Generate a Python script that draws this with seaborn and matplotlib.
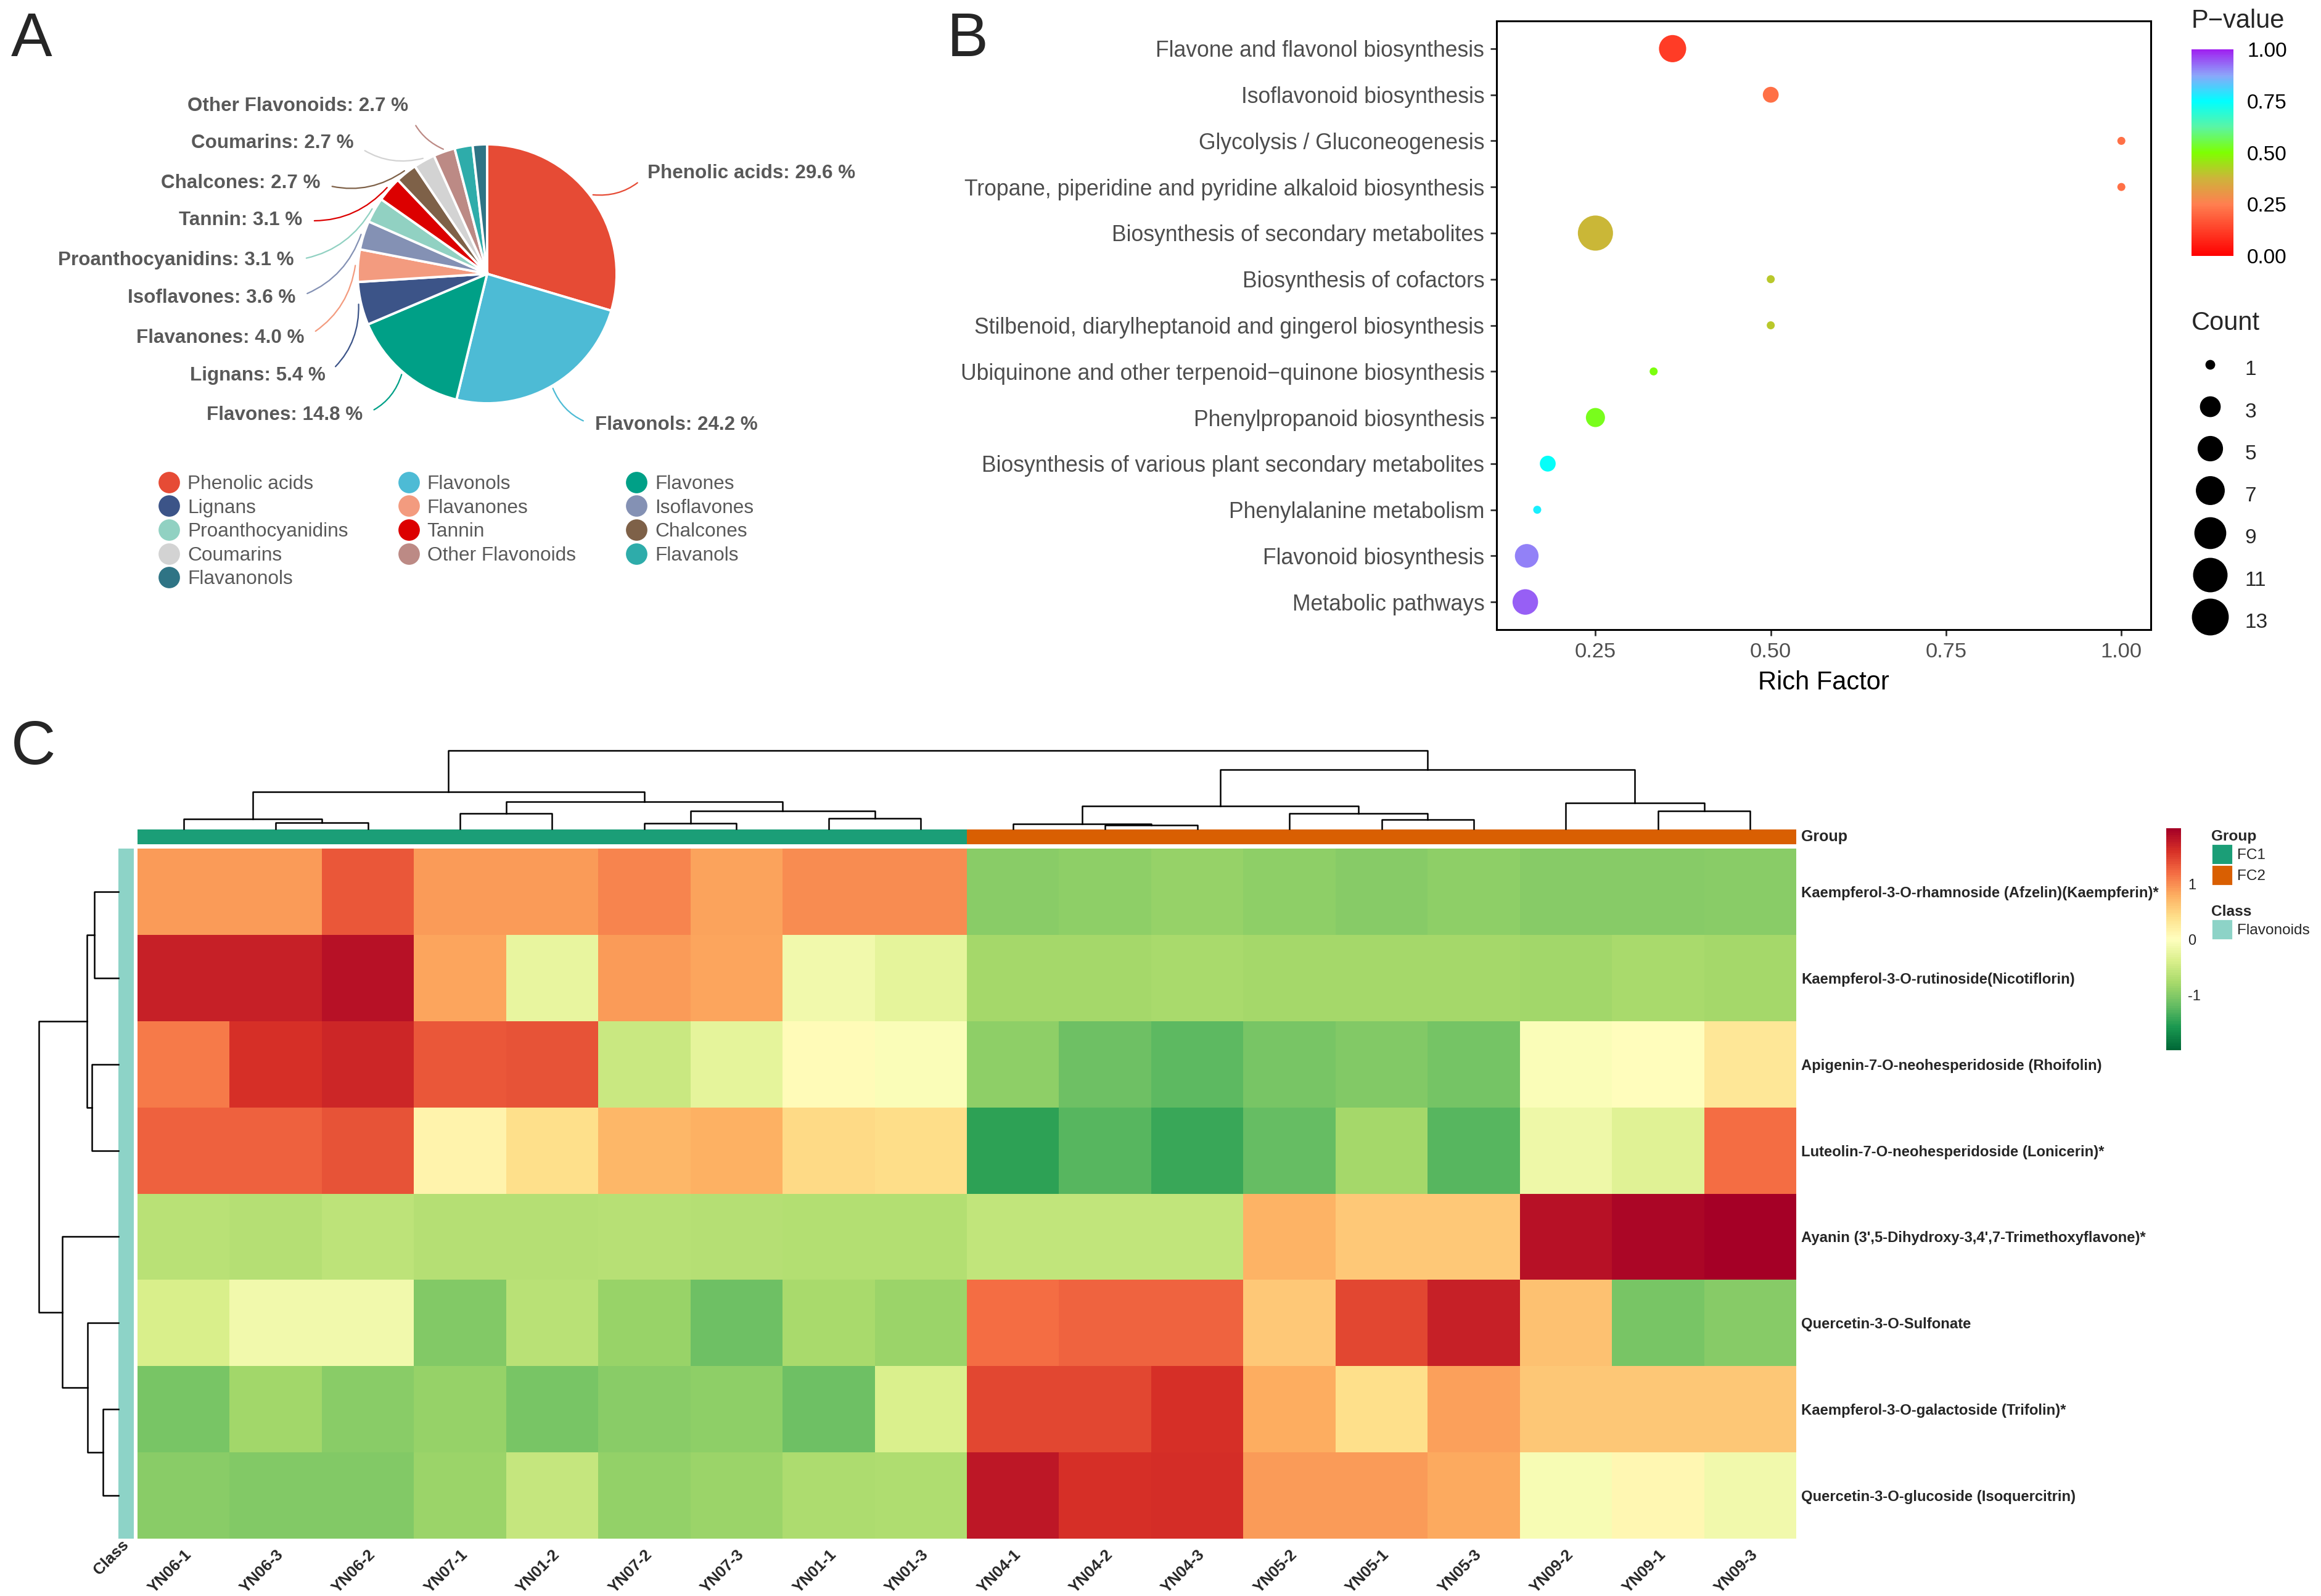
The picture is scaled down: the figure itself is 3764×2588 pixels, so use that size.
import numpy as np
import pandas as pd
import matplotlib
matplotlib.use("Agg")
import matplotlib.pyplot as plt
import seaborn as sns
from matplotlib.colors import LinearSegmentedColormap, ListedColormap, Normalize
from matplotlib.cm import ScalarMappable
from matplotlib.lines import Line2D
from matplotlib.patches import Patch

# ---------------- panel A : class composition ----------------
pie_classes = ["Phenolic acids", "Flavonols", "Flavones", "Lignans", "Flavanones",
               "Isoflavones", "Proanthocyanidins", "Tannin", "Chalcones", "Coumarins",
               "Other Flavonoids", "Flavanols", "Flavanonols"]
pie_counts = [66, 54, 33, 12, 9, 8, 7, 7, 6, 6, 6, 5, 4]
pie_colors = ["#E64B35", "#4DBBD5", "#00A087", "#3C5488", "#F39B7F", "#8491B4",
              "#91D1C2", "#DC0000", "#7E6148", "#D3D3D3", "#BC8A85", "#2EACAA", "#2F7485"]

# ---------------- panel B : KEGG enrichment ----------------
pathways = ["Flavone and flavonol biosynthesis", "Isoflavonoid biosynthesis",
            "Glycolysis / Gluconeogenesis",
            "Tropane, piperidine and pyridine alkaloid biosynthesis",
            "Biosynthesis of secondary metabolites", "Biosynthesis of cofactors",
            "Stilbenoid, diarylheptanoid and gingerol biosynthesis",
            "Ubiquinone and other terpenoid\u2212quinone biosynthesis",
            "Phenylpropanoid biosynthesis",
            "Biosynthesis of various plant secondary metabolites",
            "Phenylalanine metabolism", "Flavonoid biosynthesis", "Metabolic pathways"]
rich_factor = [0.36, 0.50, 1.00, 1.00, 0.25, 0.50, 0.50, 0.333, 0.25, 0.182, 0.167, 0.152, 0.15]
hit_count = [7, 2, 1, 1, 13, 1, 1, 1, 3, 2, 1, 5, 6]
p_value = [0.12, 0.22, 0.22, 0.22, 0.38, 0.41, 0.41, 0.51, 0.52, 0.74, 0.77, 0.91, 0.94]
count_breaks = [1, 3, 5, 7, 9, 11, 13]

# ---------------- panel C : heatmap ----------------
compounds = ["Kaempferol-3-O-rhamnoside (Afzelin)(Kaempferin)*",
             "Kaempferol-3-O-rutinoside(Nicotiflorin)",
             "Apigenin-7-O-neohesperidoside (Rhoifolin)",
             "Luteolin-7-O-neohesperidoside (Lonicerin)*",
             "Ayanin (3',5-Dihydroxy-3,4',7-Trimethoxyflavone)*",
             "Quercetin-3-O-Sulfonate",
             "Kaempferol-3-O-galactoside (Trifolin)*",
             "Quercetin-3-O-glucoside (Isoquercitrin)"]
samples = ["YN06-1", "YN06-3", "YN06-2", "YN07-1", "YN01-2", "YN07-2", "YN07-3", "YN01-1", "YN01-3",
           "YN04-1", "YN04-2", "YN04-3", "YN05-2", "YN05-1", "YN05-3", "YN09-2", "YN09-1", "YN09-3"]
sample_group = ["FC1"] * 9 + ["FC2"] * 9
z_afzelin = [0.92, 0.92, 1.33, 0.92, 0.92, 1.05, 0.87, 1.0, 1.0,
             -0.97, -0.95, -0.9, -0.95, -1.0, -0.95, -1.0, -1.0, -0.97]
z_nicotiflorin = [1.72, 1.72, 1.85, 0.85, -0.25, 0.92, 0.85, -0.15, -0.28,
                  -0.8, -0.8, -0.78, -0.8, -0.8, -0.8, -0.82, -0.78, -0.8]
z_rhoifolin = [1.12, 1.6, 1.68, 1.33, 1.36, -0.52, -0.28, 0.05, -0.05,
               -0.95, -1.15, -1.25, -1.08, -1.02, -1.1, -0.06, 0.02, 0.3]
z_lonicerin = [1.27, 1.27, 1.36, 0.15, 0.4, 0.72, 0.78, 0.45, 0.42,
               -1.5, -1.28, -1.43, -1.2, -0.8, -1.28, -0.18, -0.32, 1.2]
z_ayanin = [-0.65, -0.68, -0.62, -0.68, -0.68, -0.66, -0.68, -0.7, -0.7,
            -0.58, -0.58, -0.58, 0.75, 0.58, 0.58, 1.85, 1.95, 2.0]
z_sulfonate = [-0.4, -0.15, -0.15, -1.02, -0.65, -0.88, -1.15, -0.78, -0.87,
               1.2, 1.25, 1.25, 0.58, 1.45, 1.72, 0.65, -1.08, -1.0]
z_trifolin = [-1.08, -0.82, -0.97, -0.9, -1.08, -0.97, -0.95, -1.15, -0.38,
              1.45, 1.45, 1.6, 0.8, 0.4, 0.88, 0.6, 0.6, 0.6]
z_isoquercitrin = [-0.97, -1.03, -1.03, -0.87, -0.55, -0.92, -0.87, -0.75, -0.72,
                   1.8, 1.6, 1.62, 0.92, 0.92, 0.82, -0.08, 0.1, -0.15]
# hierarchical clustering: (left, right, height), scipy-style ids
col_links = [(1, 2, 10), (0, 18, 16), (3, 4, 25), (5, 6, 9), (7, 8, 17), (21, 22, 29),
             (20, 23, 44), (19, 24, 60), (10, 11, 6), (9, 26, 8), (13, 14, 15), (12, 28, 25),
             (27, 29, 37), (16, 17, 29), (15, 31, 42), (30, 32, 96), (25, 33, 127)]
row_links = [(0, 1, 39), (2, 3, 43), (8, 9, 51), (6, 7, 25), (5, 11, 50), (4, 12, 90), (10, 13, 128)]

W, H, DPI = 3764, 2588, 200


def px_rect(x0, y0, x1, y1):
    return [x0 / W, 1 - y1 / H, (x1 - x0) / W, (y1 - y0) / H]


def draw_tree(ax, links, n_leaves, vertical=True):
    pos = {i: i + 0.5 for i in range(n_leaves)}
    hgt = {i: 0.0 for i in range(n_leaves)}
    for k, (a, b, h) in enumerate(links):
        xs = [pos[a], pos[a], pos[b], pos[b]]
        ys = [hgt[a], h, h, hgt[b]]
        if not vertical:
            xs, ys = ys, xs
        ax.plot(xs, ys, color="black", lw=0.9, clip_on=False, solid_capstyle="projecting")
        pos[n_leaves + k] = (pos[a] + pos[b]) / 2
        hgt[n_leaves + k] = h


sns.set_style("white")
plt.rcParams["font.family"] = ["Liberation Sans", "DejaVu Sans"]
plt.rcParams["axes.unicode_minus"] = False
fig = plt.figure(figsize=(W / DPI, H / DPI), dpi=DPI)

# ================= A =================
ax_a = fig.add_axes(px_rect(370, 24, 1210, 864))
wedges, _ = ax_a.pie(pie_counts, colors=pie_colors, startangle=90, counterclock=False,
                     radius=1, wedgeprops=dict(edgecolor="white", linewidth=1.4))
ax_a.set_xlim(-2, 2)
ax_a.set_ylim(-2, 2)
ax_a.set_aspect("equal")
ax_a.axis("off")
total = sum(pie_counts)
label_pos = [(1.24, 0.776), (0.833, -1.167), (-0.962, -1.09), (-1.248, -0.786),
             (-1.41, -0.495), (-1.48, -0.186), (-1.49, 0.105), (-1.429, 0.414),
             (-1.29, 0.70), (-1.029, 1.01), (-0.61, 1.295)]
for w, name, cnt, col, (tx, ty) in zip(wedges, pie_classes, pie_counts, pie_colors, label_pos):
    ang = np.deg2rad((w.theta1 + w.theta2) / 2)
    xy = (1.02 * np.cos(ang), 1.02 * np.sin(ang))
    left = tx > 0
    ax_a.annotate(f"{name}: {100 * cnt / total:.1f} %", xy=xy, xytext=(tx, ty),
                  ha="left" if left else "right", va="center", fontsize=11.3,
                  fontweight="bold", color="#595959",
                  arrowprops=dict(arrowstyle="-", color=col, lw=0.8, shrinkA=5, shrinkB=0,
                                  relpos=(0, 0.5) if left else (1, 0.5),
                                  connectionstyle="arc3,rad=%s" % (-0.25 if left else 0.25)))
fig.text(18 / W, 1 - 18 / H, "A", fontsize=36, va="top", ha="left")

# legend filled row-wise (3 per row)
order = [i for c in range(3) for i in range(c, len(pie_classes), 3)]
handles = [Line2D([], [], marker="o", ls="", markersize=11.5, markerfacecolor=pie_colors[i],
                  markeredgecolor=pie_colors[i]) for i in order]
fig.legend(handles, [pie_classes[i] for i in order], ncol=3, loc="upper left",
           bbox_to_anchor=(258 / W, 1 - 770 / H), frameon=False, fontsize=11.4,
           labelcolor="#595959", handlelength=1.0, handletextpad=0.45, labelspacing=0.27,
           columnspacing=2.6, borderpad=0, borderaxespad=0)

# ================= B =================
pcmap = LinearSegmentedColormap.from_list(
    "pv", [(0, "#FF0000"), (0.25, "#FF7F50"), (0.375, "#CDB43A"), (0.5, "#7FFF00"),
           (0.625, "#5AF5A5"), (0.75, "#00FFFF"), (0.875, "#8CA6FA"), (1, "#A020F0")])


def dot_area(c):
    d_px = 13 + 44 * np.sqrt((c - 1) / 12)
    return (d_px * 72 / DPI) ** 2


df_b = pd.DataFrame({"Pathway": pathways, "RichFactor": rich_factor,
                     "Count": hit_count, "Pvalue": p_value})
ax_b = fig.add_axes(px_rect(2427, 34, 3488, 1021))
sns.scatterplot(data=df_b, x="RichFactor", y="Pathway", hue="Pvalue", size="Count",
                palette=pcmap, hue_norm=(0, 1),
                sizes={c: dot_area(c) for c in set(hit_count)},
                linewidth=0, legend=False, ax=ax_b)
ax_b.set_xlim(0.109, 1.042)
ax_b.set_ylim(len(pathways) - 0.4, -0.6)
ax_b.set_xticks([0.25, 0.5, 0.75, 1.0])
ax_b.set_xticklabels(["0.25", "0.50", "0.75", "1.00"])
ax_b.set_xlabel("Rich Factor", fontsize=15, color="black", labelpad=5)
ax_b.set_ylabel("")
ax_b.tick_params(axis="both", which="both", length=3.6, width=1, color="#333333",
                 labelsize=12.4, labelcolor="#4D4D4D", left=True, bottom=True)
ax_b.tick_params(axis="y", labelsize=12.8)
ax_b.tick_params(axis="x", pad=4)
for sp in ax_b.spines.values():
    sp.set_visible(True)
    sp.set_color("black")
    sp.set_linewidth(1.1)
fig.text(1536 / W, 1 - 18 / H, "B", fontsize=36, va="top", ha="left")

cax_p = fig.add_axes(px_rect(3554, 80, 3622, 415))
cb_p = fig.colorbar(ScalarMappable(Normalize(0, 1), pcmap), cax=cax_p,
                    ticks=[0, 0.25, 0.5, 0.75, 1])
cb_p.outline.set_visible(False)
cb_p.ax.set_yticklabels(["0.00", "0.25", "0.50", "0.75", "1.00"])
cax_p.tick_params(direction="in", length=5, width=1, color="white", labelcolor="black",
                  labelsize=12, left=True, right=True, pad=8)
fig.text(3554 / W, 1 - 34 / H, "P\u2212value", fontsize=15, va="center", ha="left")

fig.text(3554 / W, 1 - 524 / H, "Count", fontsize=15, va="center", ha="left")
size_handles = [Line2D([], [], marker="o", ls="", color="black",
                       markersize=np.sqrt(dot_area(c))) for c in count_breaks]
fig.legend(size_handles, [str(c) for c in count_breaks], loc="upper left",
           bbox_to_anchor=(3552 / W, 1 - 573 / H), frameon=False, fontsize=12,
           handlelength=1.9, handleheight=1.9, handletextpad=0.75, labelspacing=0.567,
           borderpad=0, borderaxespad=0)

# ================= C =================
z = pd.DataFrame([z_afzelin, z_nicotiflorin, z_rhoifolin, z_lonicerin, z_ayanin,
                  z_sulfonate, z_trifolin, z_isoquercitrin], index=compounds, columns=samples)
grp_colors = {"FC1": "#1B9E77", "FC2": "#D95F02"}
class_color = "#8DD3C7"

ax_h = fig.add_axes(px_rect(223, 1376, 2913, 2495))
sns.heatmap(z, ax=ax_h, cmap="RdYlGn_r", vmin=-2, vmax=2, cbar=False,
            xticklabels=True, yticklabels=True)
ax_h.yaxis.tick_right()
ax_h.set_yticklabels(compounds, rotation=0, fontsize=8.6, fontweight="bold")
ax_h.set_xticklabels(samples, rotation=45, ha="right", rotation_mode="anchor",
                     fontsize=9.3, fontweight="bold")
ax_h.tick_params(axis="both", length=0)
ax_h.tick_params(axis="y", pad=3)
ax_h.tick_params(axis="x", pad=5)
ax_h.set_xlabel("")
ax_h.set_ylabel("")

ax_g = fig.add_axes(px_rect(223, 1345, 2913, 1369))
grp_codes = pd.DataFrame([[0 if g == "FC1" else 1 for g in sample_group]], columns=samples)
sns.heatmap(grp_codes, ax=ax_g, cmap=ListedColormap([grp_colors["FC1"], grp_colors["FC2"]]),
            vmin=0, vmax=1, cbar=False, xticklabels=False, yticklabels=False)
ax_g.text(1.003, 0.5, "Group", transform=ax_g.transAxes, ha="left", va="center",
          fontsize=9, fontweight="bold")

ax_c = fig.add_axes(px_rect(192, 1376, 217, 2495))
sns.heatmap(pd.DataFrame(np.zeros((len(compounds), 1)), index=compounds), ax=ax_c,
            cmap=ListedColormap([class_color]), cbar=False, xticklabels=False,
            yticklabels=False)
ax_c.text(0.5, -0.006, "Class", transform=ax_c.transAxes, rotation=45, ha="right",
          va="center", rotation_mode="anchor", fontsize=9.3, fontweight="bold")

ax_dc = fig.add_axes(px_rect(223, 1217, 2913, 1344))
draw_tree(ax_dc, col_links, len(samples), vertical=True)
ax_dc.set_xlim(0, len(samples))
ax_dc.set_ylim(0, max(h for _, _, h in col_links))
ax_dc.axis("off")

ax_dr = fig.add_axes(px_rect(63, 1376, 192, 2495))
draw_tree(ax_dr, row_links, len(compounds), vertical=False)
ax_dr.set_xlim(max(h for _, _, h in row_links), 0)
ax_dr.set_ylim(len(compounds), 0)
ax_dr.axis("off")

cax_h = fig.add_axes(px_rect(3513, 1343, 3537, 1703))
cb_h = fig.colorbar(ScalarMappable(Normalize(-2, 2), plt.get_cmap("RdYlGn_r", 100)),
                    cax=cax_h, ticks=[-1, 0, 1])
cb_h.outline.set_visible(False)
cax_h.tick_params(length=0, labelsize=8.5, pad=4)

leg_kw = dict(loc="upper left", frameon=False, fontsize=8.8,
              title_fontproperties={"weight": "bold", "size": 8.8}, alignment="left",
              handlelength=1.43, handleheight=1.76, handletextpad=0.3, labelspacing=0,
              borderpad=0, borderaxespad=0)
fig.legend([Patch(fc=grp_colors["FC1"]), Patch(fc=grp_colors["FC2"])], ["FC1", "FC2"],
           title="Group", bbox_to_anchor=(3586 / W, 1 - 1345 / H), **leg_kw)
fig.legend([Patch(fc=class_color)], ["Flavonoids"], title="Class",
           bbox_to_anchor=(3586 / W, 1 - 1467 / H), **leg_kw)
fig.text(18 / W, 1 - 1166 / H, "C", fontsize=36, va="top", ha="left")

fig.savefig("out.png", dpi=DPI)
